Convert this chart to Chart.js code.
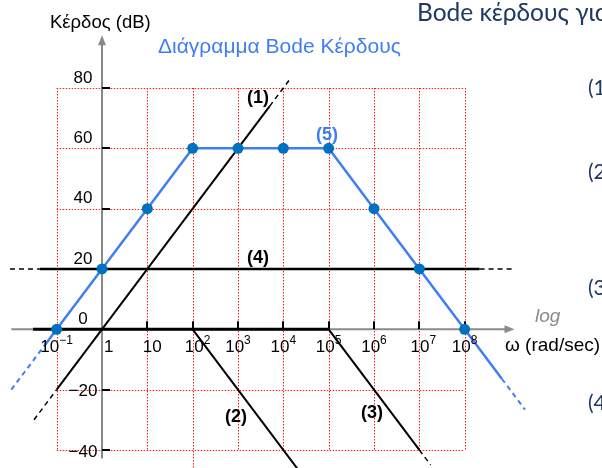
<!DOCTYPE html>
<html>
<head>
<meta charset="utf-8">
<script src="https://cdn.jsdelivr.net/npm/chart.js@4/dist/chart.umd.min.js"></script>
<style>
  html, body { margin: 0; padding: 0; background: #fff; overflow: hidden; }
  canvas { display: block; }
</style>
</head>
<body>
<canvas id="bode" width="602" height="468"></canvas>
<script>
// Asymptotic gain of the full response (5) at each decade, ω in rad/sec
const omega  = [1e-1, 1, 10, 1e2, 1e3, 1e4, 1e5, 1e6, 1e7, 1e8];
const gainDb = [0, 20, 40, 60, 60, 60, 60, 40, 20, 0];

// Tick decades on the ω axis and dB levels on the gain axis
const tickExp = [-1, 0, 1, 2, 3, 4, 5, 6, 7, 8];
const dbTicks = [80, 60, 40, 20, 0, -20, -40];

// Continuation of (5) outside the decade grid
const gainTailLeft       = [[10 ** -1.25, -5], [1e-1, 0]];
const gainTailLeftDash   = [[1e-2, -20], [10 ** -1.25, -5]];
const gainTailRight      = [[1e8, 0], [10 ** 8.82, -16.4]];
const gainTailRightDash  = [[10 ** 8.82, -16.4], [10 ** 9.33, -26.6]];

// Component asymptotes (1)–(4), as [ω, dB] pairs
const term1      = [[1e-1, -20], [10 ** 3.7, 74]];
const term1Low   = [[10 ** -1.5, -30], [1e-1, -20]];
const term1High  = [[10 ** 3.7, 74], [10 ** 4.15, 83]];
const term2      = [[1e2, 0], [10 ** 4.5, -50]];
const term3      = [[1e5, 0], [1e7, -40]];
const term3Tail  = [[1e7, -40], [10 ** 7.25, -45]];
const term4      = [[10 ** -1.37, 20], [10 ** 8.33, 20]];
const term4Left  = [[10 ** -2.03, 20], [10 ** -1.37, 20]];
const term4Right = [[10 ** 8.33, 20], [10 ** 9.05, 20]];
const flat0dB    = [[10 ** -1.52, 0], [1e5, 0]];

const BLUE_LINE = '#3f7ef2';
const BLUE_DOT  = '#0070c0';
const NAVY      = '#1f3864';
const SANS      = '"Liberation Sans", Arial, sans-serif';
const SLIDE     = 'Lato, "Open Sans", sans-serif';

const pts = arr => arr.map(([x, y]) => ({ x, y }));

function seg(data, color, width, dash, order) {
  return {
    data: pts(data), showLine: true, borderColor: color, borderWidth: width,
    borderDash: dash || [], pointRadius: 0, pointHoverRadius: 0, fill: false,
    order: order, borderCapStyle: 'butt'
  };
}

const DASH = [5, 4];

const datasets = [
  // full response (5) with its markers, on top
  {
    data: omega.map((w, i) => ({ x: w, y: gainDb[i] })),
    showLine: true, borderColor: BLUE_LINE, borderWidth: 2.5,
    pointRadius: 5.5, pointBackgroundColor: BLUE_DOT, pointBorderColor: BLUE_DOT,
    pointBorderWidth: 0, pointHoverRadius: 5.5, fill: false, order: 0
  },
  seg(gainTailLeft, BLUE_LINE, 2.5, null, 1),
  seg(gainTailLeftDash, BLUE_LINE, 2, DASH, 1),
  seg(gainTailRight, BLUE_LINE, 2.5, null, 1),
  seg(gainTailRightDash, BLUE_LINE, 2, DASH, 1),
  seg(term1, '#000', 2, null, 2),
  seg(term1Low, '#000', 1.5, DASH, 2),
  seg(term1High, '#000', 1.5, DASH, 2),
  seg(term2, '#000', 2, null, 2),
  seg(term3, '#000', 2, null, 2),
  seg(term3Tail, '#000', 1.5, DASH, 2),
  seg(term4, '#000', 2.5, null, 2),
  seg(term4Left, '#000', 1.5, DASH, 2),
  seg(term4Right, '#000', 1.5, DASH, 2),
  seg(flat0dB, '#000', 3, null, 2)
];

// Dotted grid, gray axes with arrows and the small axis ticks
const gridAndAxes = {
  id: 'gridAndAxes',
  beforeDatasetsDraw(chart) {
    const { ctx, scales: { x, y } } = chart;
    const X = v => x.getPixelForValue(v);
    const Y = v => y.getPixelForValue(v);
    ctx.save();

    // red dotted grid
    ctx.strokeStyle = '#ff1a1a';
    ctx.lineWidth = 1;
    ctx.setLineDash([1.5, 1.5]);
    tickExp.forEach(e => {
      if (e === 0) return;
      const px = Math.round(X(10 ** e)) + 0.5;
      ctx.beginPath();
      ctx.moveTo(px, Y(80));
      ctx.lineTo(px, Y(e === 2 ? -46 : -40));
      ctx.stroke();
    });
    dbTicks.forEach(d => {
      const py = Math.round(Y(d)) + 0.5;
      ctx.beginPath();
      ctx.moveTo(X(1e-1), py);
      ctx.lineTo(X(1e8), py);
      ctx.stroke();
    });
    ctx.setLineDash([]);

    // axes
    ctx.strokeStyle = '#8a8a8a';
    ctx.fillStyle = '#8a8a8a';
    ctx.lineWidth = 2;
    const ax = X(1), ay = Y(0);
    const yTop = Y(97.5), yBot = Y(-42.8);
    ctx.beginPath();
    ctx.moveTo(ax, yBot);
    ctx.lineTo(ax, yTop + 8);
    ctx.stroke();
    ctx.beginPath();
    ctx.moveTo(ax, yTop);
    ctx.lineTo(ax - 4, yTop + 10);
    ctx.lineTo(ax + 4, yTop + 10);
    ctx.closePath();
    ctx.fill();

    const xL = X(10 ** -2.0), xR = X(10 ** 9.1);
    ctx.beginPath();
    ctx.moveTo(xL, ay);
    ctx.lineTo(xR - 8, ay);
    ctx.stroke();
    ctx.beginPath();
    ctx.moveTo(xR, ay);
    ctx.lineTo(xR - 10, ay - 4);
    ctx.lineTo(xR - 10, ay + 4);
    ctx.closePath();
    ctx.fill();

    // small black ticks
    ctx.strokeStyle = '#000';
    ctx.lineWidth = 2;
    [80, 60, 40, -20, -40].forEach(d => {
      const py = Math.round(Y(d));
      ctx.beginPath();
      ctx.moveTo(ax, py);
      ctx.lineTo(ax + 8, py);
      ctx.stroke();
    });
    tickExp.forEach(e => {
      if (e <= 0) return;
      const px = Math.round(X(10 ** e));
      ctx.beginPath();
      ctx.moveTo(px, ay - 8);
      ctx.lineTo(px, ay);
      ctx.stroke();
    });
    ctx.restore();
  },

  afterDatasetsDraw(chart) {
    const { ctx, scales: { x, y } } = chart;
    const X = v => x.getPixelForValue(v);
    const Y = v => y.getPixelForValue(v);
    ctx.save();
    ctx.textBaseline = 'middle';

    // gain tick labels
    ctx.fillStyle = '#000';
    ctx.font = '17px ' + SANS;
    ctx.textAlign = 'center';
    dbTicks.forEach(d => {
      const txt = d < 0 ? '\u2212' + Math.abs(d) : String(d);
      const py = d < 0 ? Y(d) + 2 : Y(d) - 10;
      ctx.fillText(txt, 83, py);
    });

    // ω tick labels, powers of ten with raised exponents
    const axisY = Y(0);
    tickExp.forEach(e => {
      const gx = X(10 ** e);
      const base = e === 0 ? '1' : '10';
      const sup = (e === 0 || e === 1) ? '' : (e < 0 ? '\u2212' + (-e) : String(e));
      ctx.font = '17px ' + SANS;
      const wb = ctx.measureText(base).width;
      ctx.font = '12px ' + SANS;
      const ws = sup ? ctx.measureText(sup).width : 0;
      const total = wb + ws;
      let left = gx - total / 2;
      if (e === 0) left = gx + 2;
      if (e === 1 || e === 2) left += 5;
      if (e === 7) left += 4;
      ctx.textAlign = 'left';
      ctx.font = '17px ' + SANS;
      ctx.fillText(base, left, axisY + 18);
      if (sup) {
        ctx.font = '12px ' + SANS;
        ctx.fillText(sup, left + wb, axisY + 11);
      }
    });

    // axis names
    ctx.textAlign = 'left';
    ctx.font = '18.5px ' + SANS;
    ctx.fillStyle = '#000';
    ctx.fillText('Κέρδος (dB)', 50, 23);
    ctx.font = '19px ' + SANS;
    ctx.fillText('ω (rad/sec)', 505, 346);
    ctx.font = 'italic 19px ' + SANS;
    ctx.fillStyle = '#8a8a8a';
    ctx.fillText('log', 535, 317);

    // plot title
    ctx.font = '21px ' + SANS;
    ctx.fillStyle = BLUE_LINE;
    ctx.fillText('Διάγραμμα Bode Κέρδους', 158, 47);

    // curve tags
    ctx.font = 'bold 18px ' + SANS;
    ctx.textAlign = 'center';
    ctx.fillStyle = '#000';
    ctx.fillText('(1)', 258, 98);
    ctx.fillText('(4)', 258, 258);
    ctx.fillText('(2)', 236, 417);
    ctx.fillText('(3)', 372, 413);
    ctx.fillStyle = BLUE_LINE;
    ctx.fillText('(5)', 327, 135);

    // slide heading and list markers at the right edge
    ctx.textAlign = 'left';
    ctx.fillStyle = NAVY;
    ctx.font = '24.5px ' + SLIDE;
    ctx.fillText('Bode κέρδους για', 417, 13);
    ctx.font = '21px ' + SLIDE;
    ctx.fillText('(1)', 588, 88);
    ctx.fillText('(2)', 588, 172);
    ctx.fillText('(3)', 588, 288);
    ctx.fillText('(4)', 588, 403);
    ctx.restore();
  }
};

new Chart(document.getElementById('bode'), {
  type: 'scatter',
  data: { datasets },
  options: {
    responsive: false,
    animation: false,
    devicePixelRatio: 1,
    layout: { padding: 0, autoPadding: false },
    plugins: { legend: { display: false }, tooltip: { enabled: false } },
    events: [],
    scales: {
      x: { type: 'logarithmic', display: false, bounds: 'data',
           min: 10 ** -2.25, max: 10 ** 11.03 },
      y: { type: 'linear', display: false, bounds: 'data',
           min: -45.98, max: 109.17 }
    }
  },
  plugins: [gridAndAxes]
});
</script>
</body>
</html>
